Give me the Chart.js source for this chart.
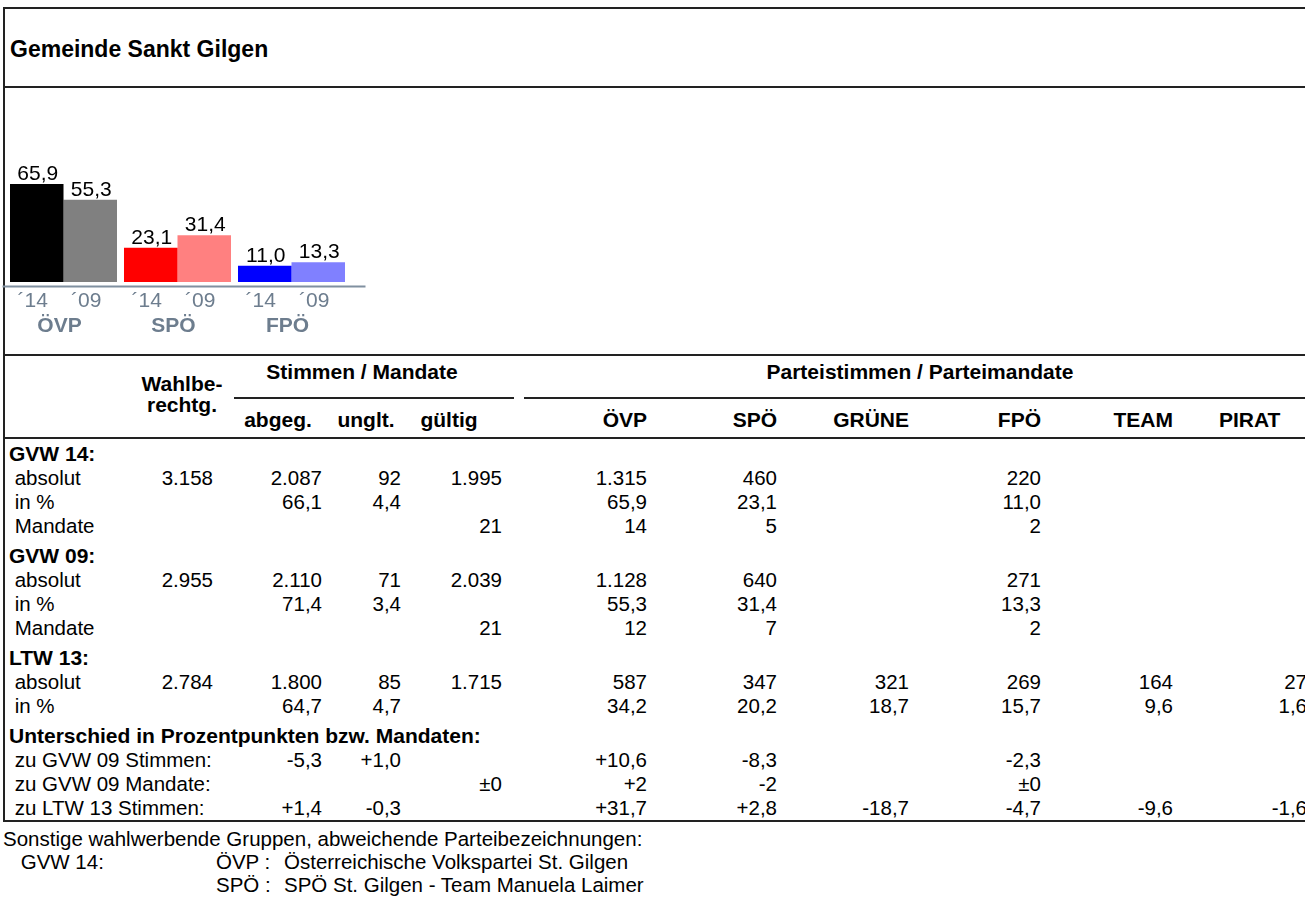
<!DOCTYPE html>
<html lang="de">
<head>
<meta charset="utf-8">
<title>Gemeinde Sankt Gilgen</title>
<script src="https://cdn.jsdelivr.net/npm/chart.js@4"></script>
<style>
  html, body { margin: 0; padding: 0; background: #fff; }
  body { width: 1305px; height: 899px; position: relative; overflow: hidden;
         font-family: "Liberation Sans", Arial, sans-serif; font-size: 20.5px; color: #000; }
  .t { position: absolute; white-space: pre; line-height: 24px; height: 24px; }
  .r { text-align: right; width: 240px; }
  .c { text-align: center; width: 400px; }
  .b { font-weight: bold; font-size: 21px; }
  .eng { line-height: 19px; height: 19px; }
  .linie { position: absolute; height: 2px; background: #222; }
  #rahmen-links { position: absolute; left: 3px; top: 8px; width: 2px; height: 814px; background: #222; }
  #grafik { position: absolute; left: 0; top: 150px; }
</style>
</head>
<body>
<div id="rahmen-links"></div>
<canvas id="grafik" width="380" height="200"></canvas>
<script>
// Balkengrafik: Parteien und Ergebnisse in %
const parteien = ['ÖVP', 'SPÖ', 'FPÖ'];
const jahre = ['´14', '´09'];
const werte14 = [65.9, 23.1, 11.0];
const werte09 = [55.3, 31.4, 13.3];
const farben14 = ['#000000', '#ff0000', '#0000ff'];
const farben09 = ['#808080', '#ff8080', '#8080ff'];

// Tabelle
const titel = 'Gemeinde Sankt Gilgen';
const spaltenStimmen = ['abgeg.', 'unglt.', 'gültig'];
const spaltenParteien = ['ÖVP', 'SPÖ', 'GRÜNE', 'FPÖ', 'TEAM', 'PIRAT'];

const gvw14Absolut = ['3.158', '2.087', '92', '1.995', '1.315', '460', '', '220', '', ''];
const gvw14Prozent = ['', '66,1', '4,4', '', '65,9', '23,1', '', '11,0', '', ''];
const gvw14Mandate = ['', '', '', '21', '14', '5', '', '2', '', ''];
const gvw09Absolut = ['2.955', '2.110', '71', '2.039', '1.128', '640', '', '271', '', ''];
const gvw09Prozent = ['', '71,4', '3,4', '', '55,3', '31,4', '', '13,3', '', ''];
const gvw09Mandate = ['', '', '', '21', '12', '7', '', '2', '', ''];
const ltw13Absolut = ['2.784', '1.800', '85', '1.715', '587', '347', '321', '269', '164', '27'];
const ltw13Prozent = ['', '64,7', '4,7', '', '34,2', '20,2', '18,7', '15,7', '9,6', '1,6'];
const diffGvw09Stimmen = ['', '-5,3', '+1,0', '', '+10,6', '-8,3', '', '-2,3', '', ''];
const diffGvw09Mandate = ['', '', '', '±0', '+2', '-2', '', '±0', '', ''];
const diffLtw13Stimmen = ['', '+1,4', '-0,3', '', '+31,7', '+2,8', '-18,7', '-4,7', '-9,6', '-1,6'];

const fussnoten = [
    ['Sonstige wahlwerbende Gruppen, abweichende Parteibezeichnungen:', '', ''],
    [' GVW 14:', 'ÖVP :', 'Österreichische Volkspartei St. Gilgen'],
    ['', 'SPÖ :', 'SPÖ St. Gilgen - Team Manuela Laimer']
];

// Layout der Tabelle (rechte Kanten der Zahlenspalten, Zeilenmitten)
const spaltenRechts = [213, 322, 401, 502, 647, 777, 909, 1041, 1173, 1307];
const zeilen = [
    ['GVW 14:', null, 455],
    [' absolut', gvw14Absolut, 479],
    [' in %', gvw14Prozent, 503],
    [' Mandate', gvw14Mandate, 527],
    ['GVW 09:', null, 557],
    [' absolut', gvw09Absolut, 581],
    [' in %', gvw09Prozent, 605],
    [' Mandate', gvw09Mandate, 629],
    ['LTW 13:', null, 659],
    [' absolut', ltw13Absolut, 683],
    [' in %', ltw13Prozent, 707],
    ['Unterschied in Prozentpunkten bzw. Mandaten:', null, 737],
    [' zu GVW 09 Stimmen:', diffGvw09Stimmen, 761],
    [' zu GVW 09 Mandate:', diffGvw09Mandate, 785],
    [' zu LTW 13 Stimmen:', diffLtw13Stimmen, 809]
];

function text(x, y, inhalt, klasse) {
    const el = document.createElement('div');
    el.className = 't ' + (klasse || '');
    el.textContent = inhalt;
    const k = (klasse || '').split(' ');
    el.style.top = (y - (k.includes('eng') ? 10 : 13)) + 'px';
    if (k.includes('r')) el.style.left = (x - 240) + 'px';
    else if (k.includes('c')) el.style.left = (x - 200) + 'px';
    else el.style.left = x + 'px';
    document.body.appendChild(el);
    return el;
}

function linie(x1, x2, y) {
    const el = document.createElement('div');
    el.className = 'linie';
    el.style.left = x1 + 'px';
    el.style.width = (x2 - x1) + 'px';
    el.style.top = (y - 1) + 'px';
    document.body.appendChild(el);
}

// Rahmen und Linien
linie(3, 1305, 8);
linie(3, 1305, 87);
linie(3, 1305, 355);
linie(234, 514, 398);
linie(524, 1305, 398);
linie(3, 1305, 438);
linie(3, 1305, 821);

const kopf = text(10, 50, titel, 'b');
kopf.style.fontSize = '23px';

// Kopfzeilen
text(182, 384, 'Wahlbe-', 'c b eng');
text(182, 405, 'rechtg.', 'c b eng');
text(362, 373, 'Stimmen / Mandate', 'c b');
text(920, 373, 'Parteistimmen / Parteimandate', 'c b');
const kopfMitten = [278, 366, 449];
spaltenStimmen.forEach((s, i) => text(kopfMitten[i], 421, s, 'c b'));
spaltenParteien.forEach((p, i) => {
    if (i === spaltenParteien.length - 1) text(1219, 421, p, 'b');
    else text(spaltenRechts[i + 4], 421, p, 'r b');
});

// Datenzeilen
zeilen.forEach(([bezeichnung, werte, y]) => {
    if (werte === null) {
        text(9, y, bezeichnung, 'b');
    } else {
        text(9, y, bezeichnung);
        werte.forEach((w, i) => { if (w) text(spaltenRechts[i], y, w, 'r'); });
    }
});

// Fussnoten
const fussY = [840, 863, 886];
fussnoten.forEach(([a, b, c], i) => {
    if (a) text(i === 0 ? 3 : 15, fussY[i], a);
    if (b) text(216, fussY[i], b);
    if (c) text(284, fussY[i], c);
});

// Beschriftungen der Balken
const beschriftung = {
    id: 'beschriftung',
    afterDraw(chart) {
        const ctx = chart.ctx;
        const bereich = chart.chartArea;
        const grau = '#6d7d8e';
        ctx.save();
        // Achsenlinie
        ctx.strokeStyle = '#8090a0';
        ctx.lineWidth = 2;
        ctx.beginPath();
        ctx.moveTo(bereich.left - 4, bereich.bottom + 4.5);
        ctx.lineTo(bereich.right + 17, bereich.bottom + 4.5);
        ctx.stroke();

        ctx.textAlign = 'center';
        ctx.textBaseline = 'alphabetic';
        chart.data.datasets.forEach((ds, d) => {
            chart.getDatasetMeta(d).data.forEach((balken, i) => {
                ctx.fillStyle = '#000';
                ctx.font = '21px "Liberation Sans", Arial, sans-serif';
                ctx.fillText(ds.data[i].toFixed(1).replace('.', ','), balken.x + 1, balken.y - 4);
                ctx.fillStyle = grau;
                ctx.fillText(jahre[d], balken.x - 4, bereich.bottom + 25);
            });
        });
        ctx.font = 'bold 21px "Liberation Sans", Arial, sans-serif';
        ctx.fillStyle = grau;
        chart.data.labels.forEach((p, i) => {
            ctx.fillText(p, chart.scales.x.getPixelForValue(i) - 4, bereich.bottom + 50);
        });
        ctx.restore();
    }
};

new Chart(document.getElementById('grafik').getContext('2d'), {
    type: 'bar',
    data: {
        labels: parteien,
        datasets: [
            { label: jahre[0], data: werte14, backgroundColor: farben14 },
            { label: jahre[1], data: werte09, backgroundColor: farben09 }
        ]
    },
    options: {
        responsive: false,
        animation: false,
        events: [],
        layout: { padding: { left: 6.5, right: 31.5, top: 13, bottom: 68 } },
        datasets: { bar: { categoryPercentage: 0.9386, barPercentage: 1.0, borderWidth: 0 } },
        plugins: { legend: { display: false }, tooltip: { enabled: false } },
        scales: {
            x: { display: false },
            y: { display: false, min: 0, max: 80 }
        }
    },
    plugins: [beschriftung]
});
</script>
</body>
</html>
